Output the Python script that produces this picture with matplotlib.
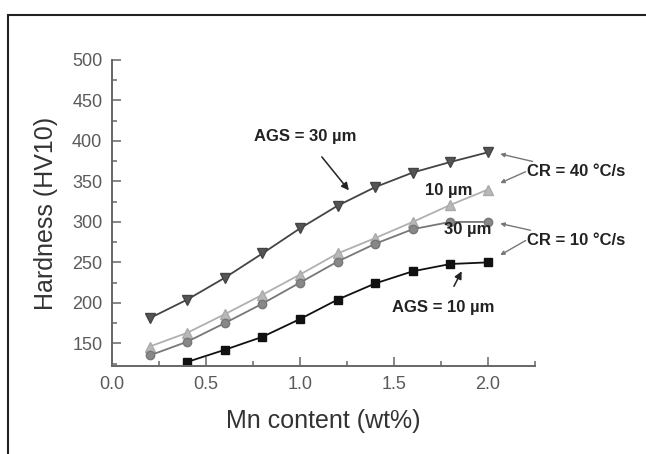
import matplotlib
matplotlib.use("Agg")
import matplotlib.pyplot as plt
from matplotlib.patches import Rectangle
from matplotlib.ticker import MultipleLocator

plt.rcParams['font.family'] = ['Liberation Sans', 'DejaVu Sans']

mn = [0.2, 0.4, 0.6, 0.8, 1.0, 1.2, 1.4, 1.6, 1.8, 2.0]
ags30_cr40 = [181, 204, 231, 261, 292, 320, 343, 361, 374, 386]
ags10_cr40 = [146, 163, 186, 210, 235, 261, 280, 300, 321, 340]
ags30_cr10 = [135, 152, 175, 199, 225, 251, 273, 291, 300, 300]
mn_b = [0.4, 0.6, 0.8, 1.0, 1.2, 1.4, 1.6, 1.8, 2.0]
ags10_cr10 = [127, 142, 158, 180, 204, 224, 239, 248, 250]

xticks = [0.0, 0.5, 1.0, 1.5, 2.0]
yticks = [150, 200, 250, 300, 350, 400, 450, 500]

fig = plt.figure(figsize=(6.46, 4.54), dpi=100)
fig.patches.append(Rectangle((8/646, -0.1), 1.2, 1 - 15/454 + 0.1, transform=fig.transFigure,
                             fill=False, edgecolor='#222222', linewidth=1.5))
ax = fig.add_axes([112/646, 1 - 366/454, (535-112)/646, (366-60)/454])

ax.plot(mn, ags30_cr40, color='#444444', lw=1.3, marker='v', ms=6.5, mfc='#555555', mec='#444444')
ax.plot(mn, ags10_cr40, color='#b0b0b0', lw=1.3, marker='^', ms=6.5, mfc='#b8b8b8', mec='#aaaaaa')
ax.plot(mn, ags30_cr10, color='#777777', lw=1.3, marker='o', ms=6, mfc='#888888', mec='#777777')
ax.plot(mn_b, ags10_cr10, color='#111111', lw=1.3, marker='s', ms=5.5, mfc='#111111', mec='#111111')

ax.set_xlim(0, 2.25)
ax.set_ylim(122, 500)
ax.set_xticks(xticks)
ax.set_xticklabels([f"{v:.1f}" for v in xticks])
ax.set_yticks(yticks)
ax.xaxis.set_minor_locator(MultipleLocator(0.25))
ax.yaxis.set_minor_locator(MultipleLocator(25))
ax.tick_params(which='major', direction='in', length=6.5, width=1.1, color='#666666',
               labelsize=13, labelcolor='#5a5a5a', pad=7)
ax.tick_params(which='minor', direction='in', length=3.5, width=1.1, color='#666666')
for s in ['top', 'right']:
    ax.spines[s].set_visible(False)
for s in ['left', 'bottom']:
    ax.spines[s].set_color('#666666')
    ax.spines[s].set_linewidth(1.4)

ax.set_xlabel('Mn content (wt%)', fontsize=18, color='#333333', labelpad=12)
ax.set_ylabel('Hardness (HV10)', fontsize=18, color='#333333', labelpad=10)

tkw = dict(fontsize=12, fontweight='bold', color='#222222')
akw = dict(arrowstyle='-|>', color='#222222', lw=1.1, mutation_scale=11)
ax.annotate('AGS = 30 µm', xy=(1.26, 339), xytext=(1.03, 405), ha='center', va='center',
            arrowprops=dict(**akw, shrinkA=9, shrinkB=0), **tkw)
ax.annotate('AGS = 10 µm', xy=(1.86, 239), xytext=(1.76, 194), ha='center', va='center',
            arrowprops=dict(**akw, shrinkA=9, shrinkB=0), **tkw)
ax.text(1.79, 339, '10 µm', ha='center', va='center', **tkw)
ax.text(1.89, 291, '30 µm', ha='center', va='center', **tkw)

lkw = dict(arrowstyle='-|>', color='#777777', lw=1.0, mutation_scale=6, shrinkA=0, shrinkB=0)
ax.annotate('CR = 40 °C/s', xy=(2.065, 384), xytext=(2.21, 362), ha='left', va='center',
            annotation_clip=False, arrowprops=lkw, **tkw)
ax.annotate('', xy=(2.065, 348), xytext=(2.20, 362), annotation_clip=False, arrowprops=lkw)
ax.annotate('CR = 10 °C/s', xy=(2.065, 298), xytext=(2.21, 277), ha='left', va='center',
            annotation_clip=False, arrowprops=lkw, **tkw)
ax.annotate('', xy=(2.065, 259), xytext=(2.20, 277), annotation_clip=False, arrowprops=lkw)

fig.savefig('out.png', dpi=100)
